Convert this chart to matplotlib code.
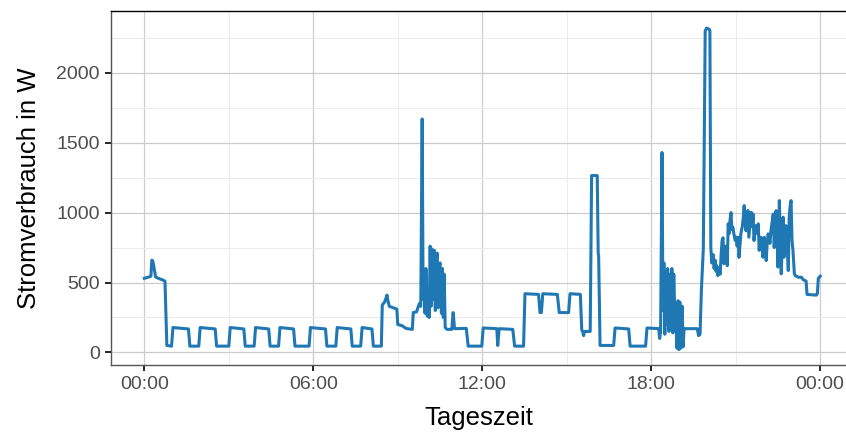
import numpy as np
import matplotlib
matplotlib.use("Agg")
import matplotlib.pyplot as plt

# Tageszeit in Minuten, Leistung in W
night_t = [0, 5, 10, 14, 16, 18, 21, 24, 30, 38, 44, 46, 48,
           58, 61, 94, 97, 116, 119, 151, 154, 180, 183, 212, 215, 234, 237,
           265, 268, 286, 289, 318, 321, 351, 354, 386, 389, 408, 411, 440, 443,
           461, 464, 485, 488, 505]
night_w = [530, 535, 540, 545, 660, 655, 600, 540, 530, 520, 510, 280, 50,
           45, 178, 168, 45, 45, 178, 168, 45, 45, 178, 168, 45, 45, 178,
           168, 45, 45, 178, 168, 45, 45, 178, 168, 45, 45, 178, 168, 45,
           45, 178, 168, 45, 45]

morning_t = [507, 512, 517, 519, 522, 530, 538, 540, 550, 556, 560, 571, 573,
             580, 586, 589]
morning_w = [340, 360, 410, 370, 330, 320, 310, 200, 190, 175, 170, 165, 285,
             290, 350, 330]

burst1_t = [592, 594, 596, 598, 600, 603, 605, 607, 609, 611, 613, 615, 618,
            620, 622, 624, 626, 628, 630, 633, 635, 637, 639, 641, 643, 645]
burst1_w = [1670, 380, 560, 280, 600, 260, 420, 250, 760, 330, 740, 380, 730,
            300, 650, 710, 320, 600, 640, 280, 600, 250, 560, 180, 170, 165]

midday_t = [655, 658, 661, 686, 690, 719, 722, 751, 753, 756, 785, 789, 808,
            811, 840, 843, 846, 849, 880, 884, 904, 907, 929, 932, 934, 936,
            938, 950, 953, 965, 967, 968, 971, 1000, 1003, 1032, 1035, 1068,
            1071, 1096, 1098, 1100]
midday_w = [165, 285, 170, 172, 45, 45, 175, 170, 50, 170, 165, 45, 45,
            420, 415, 285, 285, 420, 415, 285, 285, 420, 415, 160, 150, 120,
            150, 150, 1265, 1265, 710, 690, 50, 50, 175, 168, 45, 45,
            175, 170, 100, 150]

burst2_t = [1103, 1105, 1107, 1109, 1111, 1113, 1115, 1118, 1120, 1122, 1124,
            1126, 1128, 1131, 1133, 1135, 1137, 1139, 1141, 1143, 1146, 1148,
            1150]
burst2_w = [1430, 300, 640, 130, 580, 200, 600, 150, 560, 230, 600, 140, 560,
            180, 170, 30, 370, 20, 360, 30, 330, 40, 170]

kettle_t = [1178, 1181, 1184, 1187, 1191, 1195, 1198, 1204, 1205]
kettle_w = [170, 120, 130, 455, 740, 2300, 2320, 2310, 2300]

evening_t = [1207, 1209, 1212, 1214, 1216, 1218, 1220, 1222, 1224, 1227, 1229,
             1231, 1233, 1235, 1237, 1239, 1242, 1244, 1246, 1248, 1250, 1252,
             1254, 1256, 1259, 1261, 1263, 1265, 1267, 1269, 1271, 1274, 1276,
             1278, 1280, 1282, 1284, 1286, 1288, 1291, 1293, 1295, 1297, 1299,
             1301, 1303, 1306, 1308, 1310, 1312, 1314, 1316, 1318, 1321, 1323,
             1325, 1327, 1329, 1331, 1333, 1335, 1338, 1340, 1342, 1344, 1346,
             1348, 1350, 1353, 1355, 1357, 1359, 1361, 1363, 1365, 1367, 1370,
             1372, 1374, 1376, 1378, 1380, 1382, 1385, 1387]
evening_w = [750, 640, 700, 600, 660, 580, 620, 550, 600, 560, 700,
             800, 820, 635, 700, 760, 620, 920, 850, 950, 1000, 880,
             895, 850, 800, 824, 760, 824, 680, 760, 850, 900, 960,
             1050, 930, 870, 950, 1015, 824, 930, 1002, 900, 990, 800,
             870, 907, 850, 920, 730, 800, 824, 760, 681, 824, 740,
             657, 780, 848, 824, 780, 870, 940, 990, 750, 900, 1014,
             850, 610, 1086, 800, 562, 750, 967, 681, 800, 907, 750,
             586, 967, 1050, 1086, 800, 729, 562, 550]

late_t = [1393, 1400, 1404, 1410, 1412, 1432, 1434, 1436, 1440]
late_w = [538, 538, 520, 510, 415, 410, 420, 530, 545]

tick_pos = [0, 360, 720, 1080, 1440]
tick_lab = ["00:00", "06:00", "12:00", "18:00", "00:00"]

t = np.concatenate([night_t, morning_t, burst1_t, midday_t, burst2_t,
                    kettle_t, evening_t, late_t])
w = np.concatenate([night_w, morning_w, burst1_w, midday_w, burst2_w,
                    kettle_w, evening_w, late_w])

plt.rcParams['font.family'] = ['Liberation Sans', 'DejaVu Sans']

fig = plt.figure(figsize=(8.46, 4.36), dpi=100)
ax = fig.add_axes([0.1312, 0.1628, 0.8688, 0.812])

ax.plot(t, w, color='#1f78b4', lw=2.2, solid_joinstyle='round', zorder=3)

ax.set_xlim(-71, 1495)
ax.set_ylim(-90, 2442)
ax.set_xticks(tick_pos)
ax.set_xticklabels(tick_lab)
ax.set_xticks([180, 540, 900, 1260], minor=True)
ax.set_yticks([0, 500, 1000, 1500, 2000])
ax.set_yticks([250, 750, 1250, 1750, 2250], minor=True)

ax.grid(which='major', color='#cccccc', lw=0.9, zorder=0)
ax.grid(which='minor', color='#ebebeb', lw=0.7, zorder=0)
ax.set_axisbelow(True)

ax.tick_params(which='major', direction='out', length=4, width=1.2,
               color='black', labelsize=14, labelcolor='#4d4d4d', pad=4)
ax.tick_params(which='minor', length=0)

ax.spines['right'].set_visible(False)
ax.spines['top'].set_color('black')
ax.spines['top'].set_linewidth(1.0)
for s in ['left', 'bottom']:
    ax.spines[s].set_color('#555555')
    ax.spines[s].set_linewidth(1.0)

ax.set_xlabel('Tageszeit', fontsize=18.5, labelpad=9)
ax.set_ylabel('Stromverbrauch in W', fontsize=18.5, labelpad=11)

fig.savefig('out.png', dpi=100)
